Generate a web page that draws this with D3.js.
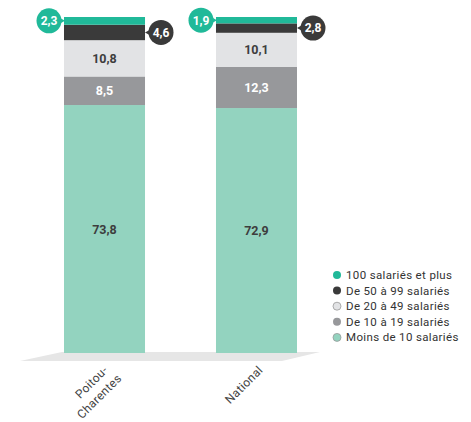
<!DOCTYPE html>
<html>
<head>
<meta charset="utf-8">
<script src="https://cdn.jsdelivr.net/npm/d3@7"></script>
<style>
  body { margin: 0; background: #fff; }
  text { font-family: Roboto, "Noto Sans", sans-serif; }
</style>
</head>
<body>
<div id="chart"></div>
<script>
// Data
const categories = ['Poitou-Charentes', 'National'];
const categoryLines = [['Poitou-', 'Charentes'], ['National']];
const seriesKeys = ['moins10', 'de10a19', 'de20a49', 'de50a99', 'plus100'];
const seriesNames = ['Moins de 10 salariés', 'De 10 à 19 salariés', 'De 20 à 49 salariés', 'De 50 à 99 salariés', '100 salariés et plus'];
const moins10 = [73.8, 72.9];
const de10a19 = [8.5, 12.3];
const de20a49 = [10.8, 10.1];
const de50a99 = [4.6, 2.8];
const plus100 = [2.3, 1.9];

const colors = ['#93d3bf', '#97989b', '#e2e3e5', '#3a3a3a', '#20b999'];
const labelColors = ['#3d3d3d', '#ffffff', '#3d3d3d'];

const width = 471, height = 422;
const fmt = d3.formatLocale({decimal: ',', thousands: ' ', grouping: [3], currency: ['', '€']}).format('.1f');

const rows = categories.map((c, i) => ({
  cat: c,
  moins10: moins10[i], de10a19: de10a19[i], de20a49: de20a49[i],
  de50a99: de50a99[i], plus100: plus100[i]
}));

const stack = d3.stack().keys(seriesKeys)(rows);

const svg = d3.select('#chart').append('svg')
  .attr('width', width)
  .attr('height', height);

const x = d3.scaleBand()
  .domain(categories)
  .range([26, 335])
  .paddingInner(0.467)
  .paddingOuter(0.25);

const y = d3.scaleLinear()
  .domain([0, 100])
  .range([353, 17]);

// floor shadow
const r = x.range();
svg.append('polygon')
  .attr('points', [[r[0] - 6, y(0) + 8], [r[0] + 36, y(0) - 1], [r[1] - 15, y(0) - 1], [r[1] - 53, y(0) + 8]].join(' '))
  .attr('fill', '#e6e6e6');

// stacked bars
const layers = svg.selectAll('.layer')
  .data(stack)
  .join('g')
  .attr('class', 'layer')
  .attr('fill', (d, i) => colors[i]);

layers.selectAll('rect')
  .data(d => d)
  .join('rect')
  .attr('x', d => x(d.data.cat))
  .attr('width', x.bandwidth())
  .attr('y', d => y(d[1]))
  .attr('height', d => y(d[0]) - y(d[1]));

// labels inside the three bottom segments
stack.slice(0, 3).forEach((layer, li) => {
  svg.selectAll('.seg-label-' + li)
    .data(layer)
    .join('text')
    .attr('class', 'seg-label-' + li)
    .attr('x', d => x(d.data.cat) + x.bandwidth() / 2)
    .attr('y', d => (y(d[0]) + y(d[1])) / 2)
    .attr('dy', '0.36em')
    .attr('text-anchor', 'middle')
    .attr('font-size', 12.5)
    .attr('font-weight', 'bold')
    .attr('fill', labelColors[li])
    .text(d => fmt(d[1] - d[0]));
});

// badges for the two thin top segments
function badge(layer, color, side) {
  const g = svg.selectAll('.badge-' + side)
    .data(layer)
    .join('g')
    .attr('class', 'badge-' + side)
    .attr('transform', d => {
      const edge = side === 'left' ? x(d.data.cat) : x(d.data.cat) + x.bandwidth();
      const cx = side === 'left' ? edge - 15 : edge + 16;
      return `translate(${cx},${(y(d[0]) + y(d[1])) / 2})`;
    });
  const dir = side === 'left' ? 1 : -1;
  g.append('path')
    .attr('d', `M0,-9 L${dir * 16},0 L0,9 Z`)
    .attr('fill', color);
  g.append('circle')
    .attr('r', 12.5)
    .attr('fill', color);
  g.append('text')
    .attr('text-anchor', 'middle')
    .attr('dy', '0.36em')
    .attr('font-size', 12)
    .attr('font-weight', 'bold')
    .attr('fill', '#fff')
    .text(d => fmt(d[1] - d[0]));
}
badge(stack[4], colors[4], 'left');
badge(stack[3], colors[3], 'right');

// category labels, rotated
const xl = svg.selectAll('.x-label')
  .data(categories)
  .join('text')
  .attr('class', 'x-label')
  .attr('text-anchor', 'end')
  .attr('font-size', 12)
  .attr('letter-spacing', 0.3)
  .attr('fill', '#444')
  .attr('transform', (d, i) => `translate(${x(d) + x.bandwidth() / 2 + (i === 0 ? 4 : 7)},${371}) rotate(-45)`);

xl.selectAll('tspan')
  .data((d, i) => categoryLines[i])
  .join('tspan')
  .attr('x', (d, j) => j * 4)
  .attr('dy', (d, j) => j === 0 ? 0 : 15.5)
  .text(d => d);

// legend (top series first)
const legendOrder = [4, 3, 2, 1, 0];
const legend = svg.append('g')
  .attr('transform', 'translate(337,275)');

const item = legend.selectAll('.legend-item')
  .data(legendOrder)
  .join('g')
  .attr('class', 'legend-item')
  .attr('transform', (d, i) => `translate(0,${i * 15.6})`);

item.append('circle')
  .attr('r', 4)
  .attr('fill', d => colors[d])
  .attr('stroke', d => (d === 0 || d === 2) ? '#999' : 'none')
  .attr('stroke-width', 0.8);

item.append('text')
  .attr('x', 9)
  .attr('dy', '0.35em')
  .attr('font-size', 11.5)
  .attr('letter-spacing', 0.35)
  .attr('fill', '#333')
  .text(d => seriesNames[d]);
</script>
</body>
</html>
